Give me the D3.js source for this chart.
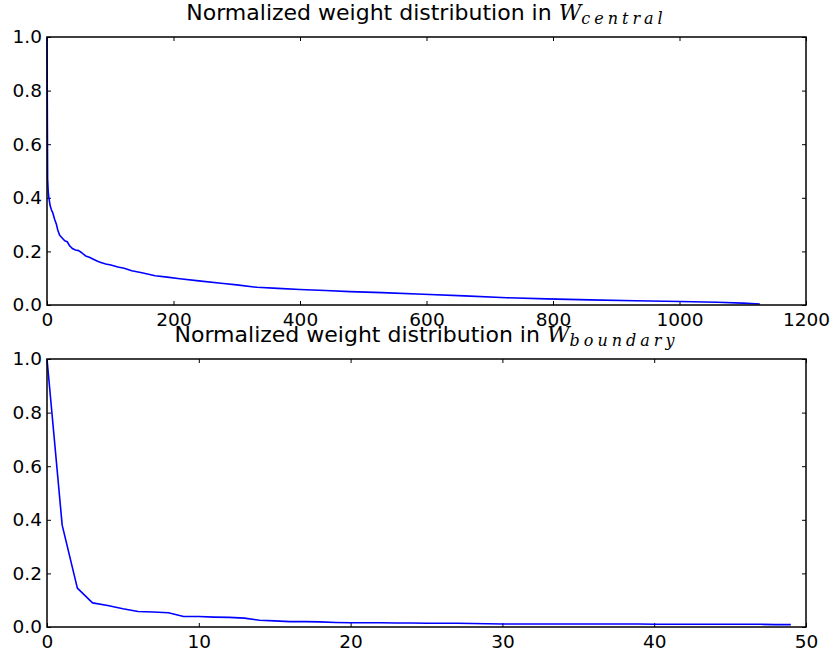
<!DOCTYPE html>
<html lang="en">
<head>
    <meta charset="UTF-8">
    <title>Normalized weight distribution</title>
    <script src="https://d3js.org/d3.v7.min.js"></script>
    <style>
        body {
            margin: 0;
            font-family: "DejaVu Sans", sans-serif;
            background: white;
        }
        .tick text {
            font-family: "DejaVu Sans", sans-serif;
            font-size: 18.5px;
            fill: black;
        }
        .title {
            font-family: "DejaVu Sans", sans-serif;
            font-size: 22px;
            text-anchor: middle;
        }
    </style>
</head>
<body>
    <div id="chart"></div>
    <script>
        // top panel: sorted weights in W_central (at sample indices)
        const centralIdx = [0, 1, 2, 3, 5, 7, 9, 12, 15, 17, 20, 24, 28, 32, 36, 40, 45, 50, 55, 61, 67, 74, 80, 85, 93, 101, 112, 122, 134, 150, 171, 190, 210, 240, 279, 300, 332, 365, 400, 440, 479, 530, 595, 660, 727, 790, 858, 930, 1001, 1060, 1100, 1127];
        const centralVal = [1.0, 0.47, 0.42, 0.40, 0.37, 0.355, 0.345, 0.32, 0.30, 0.28, 0.26, 0.25, 0.24, 0.236, 0.22, 0.211, 0.205, 0.203, 0.195, 0.183, 0.178, 0.17, 0.163, 0.159, 0.153, 0.149, 0.142, 0.137, 0.128, 0.12, 0.109, 0.104, 0.098, 0.09, 0.080, 0.075, 0.066, 0.062, 0.058, 0.054, 0.050, 0.046, 0.040, 0.034, 0.027, 0.023, 0.019, 0.016, 0.013, 0.010, 0.007, 0.004];

        // bottom panel: weights in W_boundary, one per index 0..49
        const boundaryVal = [1.0, 0.38, 0.145, 0.09, 0.08, 0.068, 0.058, 0.056, 0.053, 0.039,
                             0.039, 0.037, 0.036, 0.033, 0.025, 0.023, 0.02, 0.02, 0.019, 0.017,
                             0.016, 0.016, 0.016, 0.015, 0.015, 0.014, 0.014, 0.014, 0.013, 0.012,
                             0.011, 0.011, 0.011, 0.011, 0.011, 0.011, 0.011, 0.011, 0.011, 0.011,
                             0.01, 0.01, 0.01, 0.01, 0.01, 0.01, 0.01, 0.01, 0.009, 0.009];

        const centralTicks = [0, 200, 400, 600, 800, 1000, 1200];
        const boundaryTicks = [0, 10, 20, 30, 40, 50];
        const yTicks = [0, 0.2, 0.4, 0.6, 0.8, 1.0];

        const width = 835, height = 652;
        const svg = d3.select("#chart").append("svg")
            .attr("width", width)
            .attr("height", height);

        function panel(top, bottom, xMax, xTickVals, pts, subscript) {
            const left = 47, right = 806;
            const x = d3.scaleLinear().domain([0, xMax]).range([left, right]);
            const y = d3.scaleLinear().domain([0, 1]).range([bottom, top]);

            const g = svg.append("g");

            // ticks on all four sides, pointing inwards
            const bottomAxis = g.append("g")
                .attr("transform", "translate(0," + bottom + ")")
                .call(d3.axisBottom(x).tickValues(xTickVals).tickFormat(d3.format("d"))
                    .tickSizeInner(-4).tickSizeOuter(0).tickPadding(8));
            g.append("g")
                .attr("transform", "translate(0," + top + ")")
                .call(d3.axisTop(x).tickValues(xTickVals).tickFormat("")
                    .tickSizeInner(-4).tickSizeOuter(0));
            g.append("g")
                .attr("transform", "translate(" + left + ",0)")
                .call(d3.axisLeft(y).tickValues(yTicks).tickFormat(d3.format(".1f"))
                    .tickSizeInner(-4).tickSizeOuter(0).tickPadding(5));
            g.append("g")
                .attr("transform", "translate(" + right + ",0)")
                .call(d3.axisRight(y).tickValues(yTicks).tickFormat("")
                    .tickSizeInner(-4).tickSizeOuter(0));

            g.selectAll(".domain").remove();
            g.selectAll(".tick line").attr("stroke", "black").attr("stroke-width", 1);
            bottomAxis.selectAll(".tick text").attr("dy", "0.72em");

            const line = d3.line()
                .x(d => x(d[0]))
                .y(d => y(d[1]));

            g.append("path")
                .datum(pts)
                .attr("d", line)
                .attr("fill", "none")
                .attr("stroke", "#0000ff")
                .attr("stroke-width", 1.6)
                .attr("stroke-linejoin", "round");

            g.append("rect")
                .attr("x", left).attr("y", top)
                .attr("width", right - left).attr("height", bottom - top)
                .attr("fill", "none")
                .attr("stroke", "black")
                .attr("stroke-width", 1.5);

            const t = g.append("text")
                .attr("class", "title")
                .attr("x", (left + right) / 2)
                .attr("y", top - 17)
                .text("Normalized weight distribution in ");
            t.append("tspan")
                .attr("font-family", "DejaVu Serif")
                .attr("font-style", "italic")
                .text("W");
            t.append("tspan")
                .attr("font-family", "DejaVu Serif")
                .attr("font-style", "italic")
                .attr("font-size", "16px")
                .attr("letter-spacing", "4px")
                .attr("dy", "4")
                .text(subscript);
        }

        panel(37, 305, 1200, centralTicks,
            centralIdx.map((d, i) => [d, centralVal[i]]), "central");
        panel(359, 627, 50, boundaryTicks,
            boundaryVal.map((d, i) => [i, d]), "boundary");
    </script>
</body>
</html>
